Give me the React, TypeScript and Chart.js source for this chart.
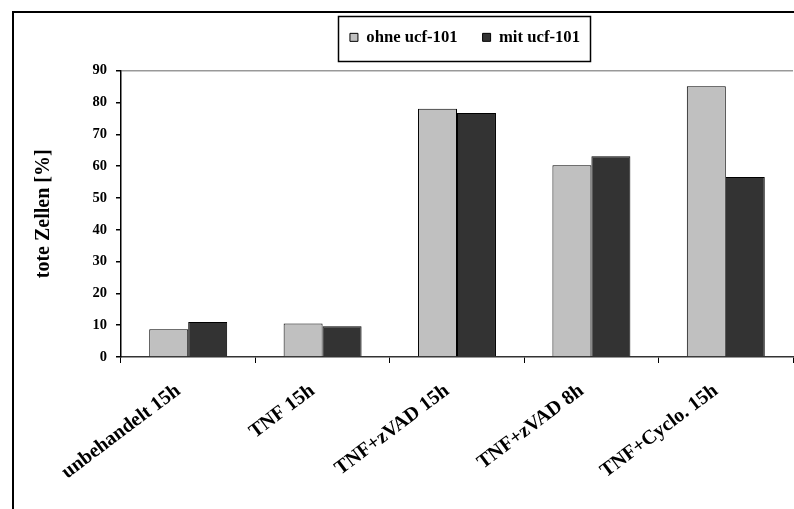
import React, { useEffect, useRef } from "react";
import { Chart, registerables } from "chart.js";

Chart.register(...registerables);

const categories = ["unbehandelt 15h", "TNF 15h", "TNF+zVAD 15h", "TNF+zVAD 8h", "TNF+Cyclo. 15h"];
const seriesNames = ["ohne ucf-101", "mit ucf-101"];
const ohneValues = [8.7, 10.5, 78.0, 60.3, 85.1];
const mitValues = [11.0, 9.7, 76.7, 63.1, 56.6];
const yTicks = [0, 10, 20, 30, 40, 50, 60, 70, 80, 90];
const yTitle = "tote Zellen [%]";

const FONT = "'Liberation Serif', 'Times New Roman', serif";
const LEGEND_EXTRA_HEIGHT = 15;
const LEGEND_SHIFT_X = 8;

const framePlugin = {
  id: "frame",
  beforeLayout(chart: any) {
    const lg = chart.legend;
    if (lg && !lg._patched) {
      const origFit = lg.fit;
      lg.fit = function (this: any, ...args: any[]) {
        origFit.apply(this, args);
        this.height += LEGEND_EXTRA_HEIGHT;
      };
      const origDraw = lg.draw;
      lg.draw = function (this: any, ...args: any[]) {
        const c = this.ctx;
        c.save();
        c.translate(LEGEND_SHIFT_X, 0);
        origDraw.apply(this, args);
        c.restore();
      };
      lg._patched = true;
    }
  },
  beforeDraw(chart: any) {
    const ctx = chart.ctx;
    ctx.save();
    ctx.fillStyle = "#ffffff";
    ctx.fillRect(0, 0, chart.width, chart.height);
    ctx.strokeStyle = "#000000";
    ctx.lineWidth = 2;
    ctx.beginPath();
    ctx.moveTo(13, chart.height + 2);
    ctx.lineTo(13, 12);
    ctx.lineTo(chart.width + 2, 12);
    ctx.stroke();
    ctx.restore();
  },
  afterDraw(chart: any) {
    const boxes = chart.legend && chart.legend.legendHitBoxes;
    if (!boxes || !boxes.length) return;
    const first = boxes[0];
    const last = boxes[boxes.length - 1];
    const left = first.left - 12 + LEGEND_SHIFT_X;
    const right = last.left + last.width + 10 + LEGEND_SHIFT_X;
    const cy = first.top + first.height / 2;
    const ctx = chart.ctx;
    ctx.save();
    ctx.strokeStyle = "#000000";
    ctx.lineWidth = 1.5;
    ctx.strokeRect(Math.round(left) + 0.5, Math.round(cy - 21) + 0.5, Math.round(right - left), 45);
    ctx.restore();
  },
};

export default function App() {
  const ref = useRef<HTMLCanvasElement | null>(null);
  useEffect(() => {
    if (!ref.current) return;
    const chart = new Chart(ref.current, {
      type: "bar",
      data: {
        labels: categories,
        datasets: [
          {
            label: seriesNames[0],
            data: ohneValues,
            backgroundColor: "#c0c0c0",
            borderColor: "#000000",
            borderWidth: 1,
            categoryPercentage: 0.58,
            barPercentage: 1,
          },
          {
            label: seriesNames[1],
            data: mitValues,
            backgroundColor: "#333333",
            borderColor: "#000000",
            borderWidth: 1,
            categoryPercentage: 0.58,
            barPercentage: 1,
          },
        ],
      },
      options: {
        responsive: false,
        animation: false,
        devicePixelRatio: 1,
        layout: { padding: { left: 14, right: 1, top: 4, bottom: 0 } },
        plugins: {
          tooltip: { enabled: false },
          legend: {
            position: "top",
            fullSize: false,
            labels: {
              boxWidth: 8,
              boxHeight: 8,
              padding: 25,
              color: "#000000",
              font: { family: FONT, size: 16.7, weight: "bold" },
            },
          },
        },
        scales: {
          x: {
            offset: true,
            grid: {
              display: true,
              drawOnChartArea: false,
              offset: true,
              tickLength: 6,
              color: "#000000",
            },
            border: { display: true, color: "#333333", width: 1.5 },
            ticks: {
              minRotation: 37,
              maxRotation: 37,
              autoSkip: false,
              padding: 16,
              labelOffset: -10,
              color: "#000000",
              font: { family: FONT, size: 20, weight: "bold" },
            },
            afterFit(axis: any) {
              axis.height = 152;
            },
          },
          y: {
            min: 0,
            max: 90,
            afterBuildTicks(axis: any) {
              axis.ticks = yTicks.map((v) => ({ value: v }));
            },
            grid: {
              drawOnChartArea: true,
              drawTicks: true,
              tickLength: 5,
              color: (c: any) => (c.type === "tick" && c.tick && c.tick.value === 90 ? "#999999" : "rgba(0,0,0,0)"),
              tickColor: "#000000",
              lineWidth: 1.5,
            },
            border: { display: true, color: "#000000", width: 1.5 },
            ticks: {
              padding: 9,
              color: "#000000",
              font: { family: FONT, size: 14.5, weight: "bold" },
            },
            title: {
              display: true,
              text: yTitle,
              color: "#000000",
              padding: { top: 18, bottom: 0 },
              font: { family: FONT, size: 20, weight: "bold" },
            },
            afterFit(axis: any) {
              axis.width = 107;
            },
          },
        },
      },
      plugins: [framePlugin],
    });
    return () => chart.destroy();
  }, []);
  return (
    <div style={{ position: "absolute", left: 0, top: 0, width: 794, height: 509 }}>
      <canvas ref={ref} width={794} height={509} />
    </div>
  );
}
